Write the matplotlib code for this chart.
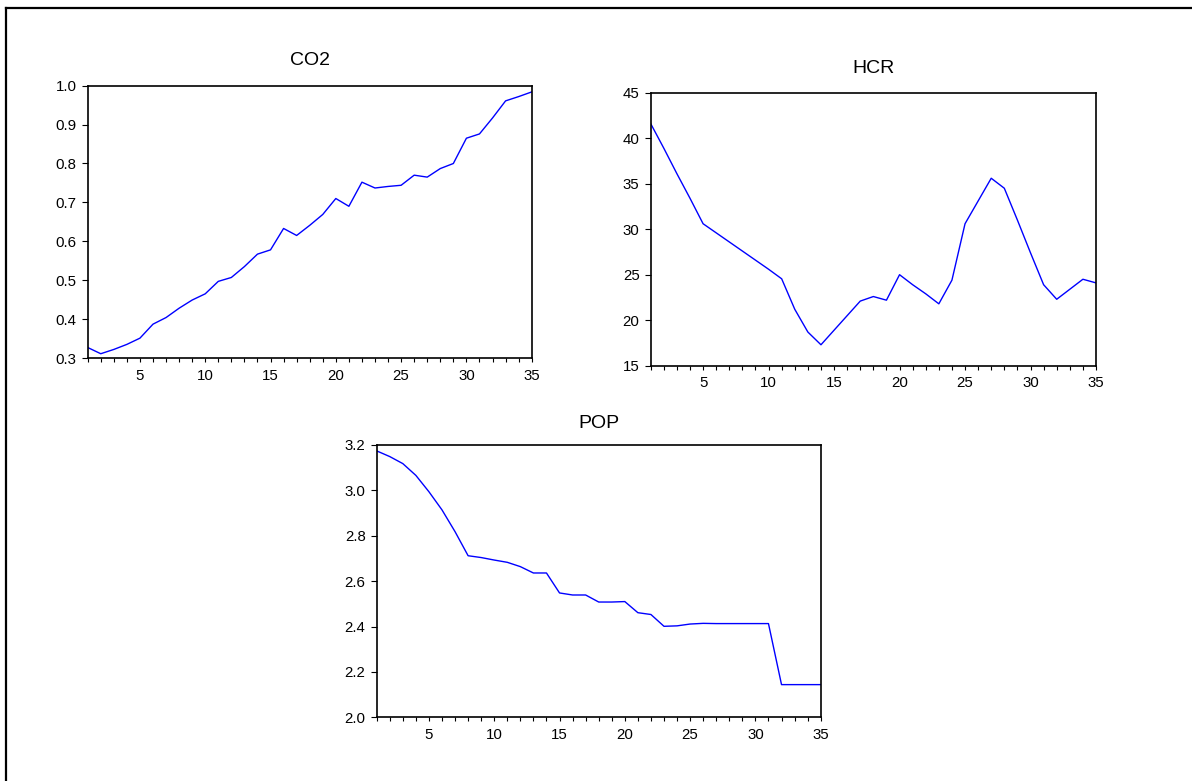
import matplotlib
matplotlib.use("Agg")
import matplotlib.pyplot as plt
from matplotlib.lines import Line2D
import numpy as np

# ---- data ----
periods = list(range(1, 36))
co2 = [0.327, 0.311, 0.322, 0.335, 0.351, 0.387, 0.404, 0.428, 0.449, 0.465,
       0.497, 0.507, 0.535, 0.567, 0.578, 0.633, 0.615, 0.641, 0.669, 0.710,
       0.690, 0.752, 0.737, 0.741, 0.744, 0.770, 0.765, 0.787, 0.800, 0.865,
       0.876, 0.917, 0.961, 0.972, 0.984]
hcr = [41.6, 38.9, 36.1, 33.4, 30.6, 29.6, 28.6, 27.6, 26.6, 25.6,
       24.55, 21.2, 18.7, 17.3, 18.9, 20.5, 22.1, 22.6, 22.2, 25.0,
       23.9, 22.9, 21.8, 24.4, 30.6, 33.1, 35.6, 34.5, 31.0, 27.4,
       23.9, 22.3, 23.4, 24.5, 24.1]
pop = [3.174, 3.149, 3.118, 3.066, 2.994, 2.914, 2.818, 2.712, 2.704, 2.693,
       2.683, 2.664, 2.636, 2.636, 2.548, 2.539, 2.539, 2.508, 2.508, 2.510,
       2.461, 2.453, 2.401, 2.403, 2.411, 2.414, 2.413, 2.413, 2.413, 2.413,
       2.413, 2.144, 2.144, 2.144, 2.144]

panels = [
    ("CO2", co2, (0.3, 1.0), np.arange(0.3, 1.01, 0.1), "{:.1f}"),
    ("HCR", hcr, (15, 45), np.arange(15, 46, 5), "{:.0f}"),
    ("POP", pop, (2.0, 3.2), np.arange(2.0, 3.21, 0.2), "{:.1f}"),
]

W, H = 1192, 781
# axes boxes in pixels: left, top, right, bottom
boxes = [
    (87.7, 85.7, 531.7, 358.0),
    (650.7, 92.7, 1096.0, 365.7),
    (376.7, 445.0, 820.7, 717.3),
]
title_pads = [15.0, 14.5, 12.5]

plt.rcParams['font.family'] = ['Liberation Sans', 'DejaVu Sans']

fig = plt.figure(figsize=(W / 100, H / 100), dpi=100)
fig.patch.set_facecolor("white")

for (name, vals, ylim, yt, fmt), (l, t, r, b), tp in zip(panels, boxes, title_pads):
    ax = fig.add_axes([l / W, 1 - b / H, (r - l) / W, (b - t) / H])
    ax.plot(periods, vals, color="#0000ff", lw=1.0)
    ax.set_xlim(1, 35)
    ax.set_ylim(*ylim)
    ax.set_yticks(yt)
    ax.set_yticklabels([fmt.format(v) for v in yt])
    ax.set_xticks(periods)
    ax.set_xticklabels([str(p) if p % 5 == 0 else "" for p in periods])
    ax.tick_params(axis="both", direction="out", width=0.8, labelsize=10.8,
                   colors="black")
    ax.tick_params(axis="y", length=4, pad=4)
    ax.tick_params(axis="x", length=3.2, pad=4.5)
    for s in ax.spines.values():
        s.set_linewidth(1.2)
        s.set_color("black")
    ax.set_title(name, fontsize=14, pad=tp)

# outer frame (top and left edges visible)
fig.add_artist(Line2D([5.5 / W, 1.0], [1 - 7.7 / H, 1 - 7.7 / H],
                      transform=fig.transFigure, color="black", lw=1.6))
fig.add_artist(Line2D([5.8 / W, 5.8 / W], [0.0, 1 - 7.7 / H],
                      transform=fig.transFigure, color="black", lw=1.6))

fig.savefig("out.png", dpi=100, facecolor="white")
